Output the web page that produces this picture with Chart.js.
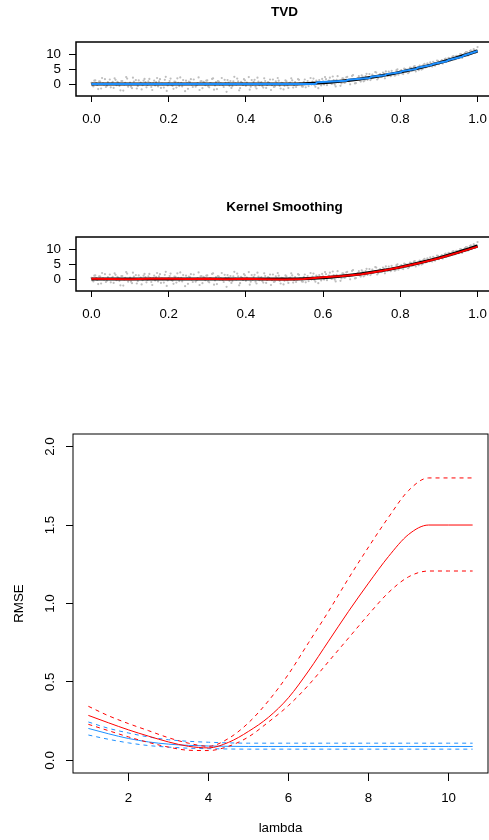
<!DOCTYPE html>
<html>
<head>
<meta charset="utf-8">
<script src="https://cdn.jsdelivr.net/npm/chart.js@4.4.1/dist/chart.umd.min.js"></script>
<style>
  html, body { margin: 0; padding: 0; background: #fff; overflow: hidden; width: 489px; height: 840px; }
  canvas { position: absolute; left: 0; }
</style>
</head>
<body>
<canvas id="tvd" width="500" height="135" style="top:0px"></canvas>
<canvas id="ks" width="500" height="135" style="top:195px"></canvas>
<canvas id="rmse" width="500" height="440" style="top:400px"></canvas>
<script>
// observed noisy signal, first half of the sample (x = 0, 0.005, ..., 1)
const obsY = [
  0.4, -0.8, 1.2, -0.3, 0.9, -1.5, 0.2, 1.6, -0.6, 0.1,
  -1.1, 0.7, 1.9, -0.4, 0.3, -2.1, 1.0, -0.2, 2.3, -0.9,
  0.5, -1.4, 0.8, 1.3, -0.7, 0.0, -1.8, 1.1, 0.6, -0.3,
  1.7, -1.0, 0.2, -0.5, 2.0, 0.9, -1.3, -0.1, 1.4, -2.3,
  0.3, 1.8, -0.6, 0.8, -1.2, 0.4, 2.2, -0.8, 0.0, 1.1,
  -1.6, 0.6, -0.2, 1.5, -0.9, 0.3, -2.0, 1.0, 0.7, -0.4,
  1.2, -1.1, 0.1, 1.9, -0.5, -1.7, 0.8, 0.2, -0.3, 1.4,
  -2.6, 0.5, 1.0, -0.7, 2.4, -0.2, 0.9, -1.4, 0.4, 1.6,
  -0.6, 0.0, -1.9, 1.3, 0.7, -0.9, 2.1, -0.4, 0.6, -1.2,
  1.0, -0.3, 0.4, -2.0, 1.5, -0.8, 0.2, 1.1, -1.5, 0.3,
  -0.6,
  0.9, -1.3, 0.5, 1.2, -0.4, -1.0, 1.6, 0.2, -0.8, 0.7,
  -1.1, 1.0, 0.4, -0.2, 1.8, -0.9, 0.6, 1.3, -0.5, 0.9,
  2.3, -0.4, 1.1, 0.3, 2.5, -0.2, 1.4, 0.6, -0.6, 1.9,
  0.4, 2.2, 1.0, -0.1, 2.7, 1.5, 0.3, 2.0, 1.2, 2.9,
  0.9, 2.6, 1.4, 3.3, 1.8, 2.2, 4.0, 1.5, 2.9, 2.4,
  3.8, 1.9, 3.2, 4.1, 2.6, 3.6, 2.8, 4.6, 3.1, 4.3,
  3.5, 5.1, 4.0, 3.6, 5.5, 4.4, 5.8, 4.2, 5.0, 6.1,
  4.8, 6.4, 5.5, 6.9, 5.9, 6.2, 7.4, 6.1, 7.8, 6.6,
  7.6, 6.8, 8.3, 7.4, 8.7, 7.9, 9.1, 8.2, 9.4, 8.6,
  10.0, 8.7, 9.9, 10.6, 9.5, 11.0, 10.2, 11.6, 10.4, 12.3
];
// second half, sampled in between (x = 0.0025, 0.0075, ..., 0.9975)
const obsY2 = [
  -0.5, 1.1, 0.3, -1.7, 0.8, 2.0, -0.2, -1.0, 0.6, 1.5,
  0.2, -1.3, 1.4, 0.7, -0.6, 1.0, -2.2, 0.4, 1.8, -0.1,
  -0.9, 2.1, 0.0, -1.5, 1.2, 0.5, -0.4, 1.7, -1.1, 0.9,
  0.3, -2.0, 1.1, 0.6, -0.8, 1.6, 0.1, -1.2, 2.4, -0.5,
  1.0, -0.3, -1.6, 0.7, 1.9, -0.7, 0.4, 1.3, -2.4, 0.2,
  0.8, 1.6, -1.0, 0.0, -0.4, 2.2, 0.9, -1.4, 0.5, 1.1,
  -0.8, 0.3, 1.7, -1.9, 0.6, 1.0, -0.2, 2.0, -1.0, 0.4,
  1.3, -0.6, -1.3, 0.9, 0.1, 1.8, -2.1, 0.7, -0.3, 1.2,
  0.5, 2.3, -0.9, -0.2, 1.4, -1.5, 0.8, 0.3, -0.7, 1.9,
  -1.3, 0.6, 1.5, -0.4, -1.0, 0.9, 2.0, -0.6, 0.4, -1.8,
  1.2, -0.5, 0.3, 1.9, -1.2, 0.6, -0.2, 1.4, 0.0, -0.9,
  1.5, 0.3, -0.7, 2.0, 0.8, -0.3, 1.1, -1.4, 0.5, 1.7,
  -0.2, 1.6, 0.7, 2.1, 0.0, 1.3, -0.8, 2.6, 0.9, 0.2,
  1.8, 0.5, 2.4, 0.9, 1.4, 3.0, 0.2, 1.7, 2.6, 0.8,
  2.5, 1.2, 3.4, 2.0, 1.3, 3.1, 2.4, 3.8, 1.9, 3.3,
  2.3, 3.5, 4.2, 2.7, 3.0, 4.4, 3.3, 2.9, 4.9, 3.7,
  4.6, 3.3, 5.0, 4.8, 3.9, 5.4, 4.5, 6.0, 5.2, 4.6,
  6.0, 5.0, 6.7, 5.7, 6.5, 7.2, 5.8, 7.0, 6.6, 7.7,
  7.1, 8.0, 7.3, 8.5, 8.0, 8.6, 8.4, 9.3, 8.7, 9.2,
  9.3, 9.9, 9.6, 10.3, 10.6, 9.9, 11.2, 10.8, 11.3, 11.1
];

// true curve and kernel fit, read at x = 0, 0.05, ..., 1
const fitX = [0, 0.05, 0.1, 0.15, 0.2, 0.25, 0.3, 0.35, 0.4, 0.45, 0.5,
              0.55, 0.6, 0.65, 0.7, 0.75, 0.8, 0.85, 0.9, 0.95, 1.0];
const truthY = [0, 0, 0, 0, 0, 0, 0, 0, 0, 0, 0,
                0.11, 0.44, 0.99, 1.76, 2.75, 3.96, 5.39, 7.04, 8.91, 11.0];
const kernelY = [0.1, 0.0, -0.1, 0.05, 0.1, 0.0, 0.05, -0.1, 0.1, -0.05, -0.2,
                 0.0, 0.6, 1.0, 1.6, 2.7, 3.9, 5.3, 6.9, 8.8, 10.8];

// TVD fit (small steps)
const tvdX = [0, 0.58, 0.585, 0.66, 0.665, 0.72, 0.725, 0.76, 0.765, 0.8,
              0.805, 0.84, 0.845, 0.88, 0.885, 0.92, 0.925, 0.96, 0.965, 1.0];
const tvdY = [0, 0, 0.6, 1.1, 1.4, 2.0, 2.4, 2.9, 3.3, 3.9,
              4.3, 5.0, 5.4, 6.3, 6.7, 7.6, 8.0, 9.1, 9.5, 11.0];

// RMSE vs lambda
const lambda = [1, 1.5, 2, 2.5, 3, 3.5, 4, 4.5, 5, 5.5, 6, 6.5, 7, 7.5, 8, 8.5, 9, 9.5, 10, 10.6];
const ksMean  = [0.287, 0.24, 0.195, 0.155, 0.118, 0.09, 0.08, 0.115, 0.185, 0.275,
                 0.40, 0.57, 0.76, 0.95, 1.13, 1.30, 1.44, 1.50, 1.50, 1.50];
const ksUpper = [0.345, 0.285, 0.235, 0.19, 0.145, 0.11, 0.09, 0.14, 0.24, 0.38,
                 0.55, 0.75, 0.95, 1.16, 1.36, 1.55, 1.72, 1.80, 1.80, 1.80];
const ksLower = [0.23, 0.19, 0.15, 0.115, 0.085, 0.065, 0.063, 0.09, 0.15, 0.245,
                 0.35, 0.48, 0.63, 0.78, 0.93, 1.07, 1.17, 1.207, 1.207, 1.207];
const tvdMean  = [0.204, 0.17, 0.14, 0.118, 0.104, 0.096, 0.092, 0.09, 0.089, 0.089,
                  0.089, 0.089, 0.089, 0.089, 0.089, 0.089, 0.089, 0.089, 0.089, 0.089];
const tvdUpper = [0.245, 0.205, 0.175, 0.15, 0.132, 0.122, 0.116, 0.112, 0.11, 0.11,
                  0.11, 0.11, 0.11, 0.11, 0.11, 0.11, 0.11, 0.11, 0.11, 0.11];
const tvdLower = [0.162, 0.135, 0.112, 0.095, 0.085, 0.078, 0.075, 0.073, 0.072, 0.072,
                  0.072, 0.072, 0.072, 0.072, 0.072, 0.072, 0.072, 0.072, 0.072, 0.072];

// tick values
const xTicksTop = [0, 0.2, 0.4, 0.6, 0.8, 1.0];
const yTicksTop = [0, 5, 10];
const xTicksRmse = [2, 4, 6, 8, 10];
const yTicksRmse = [0, 0.5, 1.0, 1.5, 2.0];

Chart.defaults.font.family = "'Liberation Sans', Arial, Helvetica, sans-serif";
Chart.defaults.color = "#000";

const pts = (xs, ys) => ys.map((y, i) => ({ x: xs[i], y }));
const obsPts = obsY.map((y, i) => ({ x: i / 200, y }))
  .concat(obsY2.map((y, i) => ({ x: (i + 0.5) / 200, y })));

// box + extra texts
function decor(boxWidth, texts) {
  return {
    id: "decor",
    afterDraw(chart) {
      const ctx = chart.ctx, a = chart.chartArea;
      ctx.save();
      ctx.strokeStyle = "#000";
      ctx.lineWidth = boxWidth;
      ctx.strokeRect(a.left, a.top, a.right - a.left, a.bottom - a.top);
      texts(chart).forEach(t => {
        ctx.save();
        ctx.font = t.font;
        ctx.fillStyle = "#000";
        ctx.textAlign = "center";
        ctx.textBaseline = "middle";
        ctx.translate(t.x, t.y);
        if (t.rot) ctx.rotate(t.rot);
        ctx.fillText(t.text, 0, 0);
        ctx.restore();
      });
      ctx.restore();
    }
  };
}

function setTicks(list) {
  return s => { s.ticks = list.map(v => ({ value: v })); };
}

function topPanel(id, title, fitData, fitColor) {
  new Chart(document.getElementById(id), {
    type: "scatter",
    data: {
      datasets: [
        { data: fitData, showLine: true, borderColor: fitColor, borderWidth: 2, pointRadius: 0 },
        { data: pts(fitX, truthY), showLine: true, borderColor: "#000", borderWidth: 3, pointRadius: 0, tension: 0.3 },
        { data: obsPts, pointRadius: 1.1, pointBackgroundColor: "#bebebe", pointBorderWidth: 0 }
      ]
    },
    options: {
      responsive: false,
      animation: false,
      devicePixelRatio: 1,
      layout: { padding: { top: 42, right: 7, left: 0, bottom: 0 } },
      plugins: { legend: { display: false }, tooltip: { enabled: false } },
      scales: {
        x: {
          type: "linear", min: -0.04, max: 1.04,
          afterBuildTicks: setTicks(xTicksTop),
          afterFit: s => { s.height = 39; },
          grid: { drawOnChartArea: false, drawTicks: true, tickLength: 6, color: "#000" },
          border: { display: false },
          ticks: { padding: 9, font: { size: 13.33 }, callback: v => v.toFixed(1) }
        },
        y: {
          type: "linear", min: -4, max: 14,
          afterBuildTicks: setTicks(yTicksTop),
          afterFit: s => { s.width = 76; },
          grid: { drawOnChartArea: false, drawTicks: true, tickLength: 7, color: "#000" },
          border: { display: false },
          ticks: { padding: 8, font: { size: 13.33 } }
        }
      }
    },
    plugins: [decor(1.5, c => [{
      text: title, font: "bold 13.5px 'Liberation Sans', Arial, sans-serif",
      x: (c.chartArea.left + c.chartArea.right) / 2, y: c.chartArea.top - 30
    }])]
  });
}

topPanel("tvd", "TVD", pts(tvdX, tvdY), "#1e90ff");
topPanel("ks", "Kernel Smoothing", pts(fitX, kernelY), "#ff0000");

function band(ys, color, dashed) {
  return {
    data: pts(lambda, ys), showLine: true, borderColor: color, borderWidth: 1,
    borderDash: dashed ? [4, 4] : [], pointRadius: 0, cubicInterpolationMode: "monotone"
  };
}

new Chart(document.getElementById("rmse"), {
  type: "scatter",
  data: {
    datasets: [
      band(ksMean, "#ff0000", false),
      band(ksUpper, "#ff0000", true),
      band(ksLower, "#ff0000", true),
      band(tvdMean, "#1e90ff", false),
      band(tvdUpper, "#1e90ff", true),
      band(tvdLower, "#1e90ff", true)
    ]
  },
  options: {
    responsive: false,
    animation: false,
    devicePixelRatio: 1,
    layout: { padding: { top: 34, right: 12, left: 0, bottom: 0 } },
    plugins: { legend: { display: false }, tooltip: { enabled: false } },
    scales: {
      x: {
        type: "linear", min: 0.616, max: 10.984,
        afterBuildTicks: setTicks(xTicksRmse),
        afterFit: s => { s.height = 67; },
        grid: { drawOnChartArea: false, drawTicks: true, tickLength: 8, color: "#000" },
        border: { display: false },
        ticks: { padding: 9, font: { size: 13.33 } }
      },
      y: {
        type: "linear", min: -0.08, max: 2.08,
        afterBuildTicks: setTicks(yTicksRmse),
        afterFit: s => { s.width = 73; },
        grid: { drawOnChartArea: false, drawTicks: true, tickLength: 7, color: "#000" },
        border: { display: false },
        ticks: { display: false }
      }
    }
  },
  plugins: [decor(1, c => {
    const a = c.chartArea, ys = c.scales.y;
    const f = "13.33px 'Liberation Sans', Arial, sans-serif";
    const out = yTicksRmse.map(v => ({
      text: v.toFixed(1), font: f, x: 50, y: ys.getPixelForValue(v), rot: -Math.PI / 2
    }));
    out.push({ text: "RMSE", font: f, x: 19, y: (a.top + a.bottom) / 2, rot: -Math.PI / 2 });
    out.push({ text: "lambda", font: f, x: (a.left + a.right) / 2, y: a.bottom + 55 });
    return out;
  })]
});
</script>
</body>
</html>
